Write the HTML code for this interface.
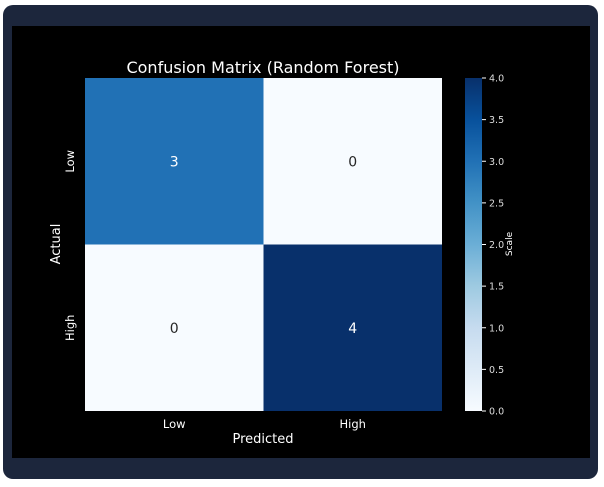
<!DOCTYPE html>
<html><head><meta charset="utf-8"><style>
body{margin:0;background:#fff;}
#wrap{position:relative;width:604px;height:487px;background:#fff;overflow:hidden;}
#frame{position:absolute;left:3px;top:5px;width:595px;height:474px;background:#1c263c;border-radius:10px;}
svg{position:absolute;left:0;top:0;}
text{font-family:"DejaVu Sans","Liberation Sans",sans-serif;fill:#fff;}
</style></head><body>
<div id="wrap">
<div id="frame"></div>
<svg id="chart" width="604" height="487">
<defs><linearGradient id="blues" x1="0" y1="1" x2="0" y2="0">
<stop offset="0" stop-color="#f7fbff"/><stop offset="0.125" stop-color="#deebf7"/>
<stop offset="0.25" stop-color="#c6dbef"/><stop offset="0.375" stop-color="#9ecae1"/>
<stop offset="0.5" stop-color="#6baed6"/><stop offset="0.625" stop-color="#4292c6"/>
<stop offset="0.75" stop-color="#2171b5"/><stop offset="0.875" stop-color="#08519c"/>
<stop offset="1" stop-color="#08306b"/></linearGradient></defs>
<rect x="12" y="26" width="578" height="432" fill="#000"/>
<text x="263" y="73" font-size="16" text-anchor="middle">Confusion Matrix (Random Forest)</text>
<text x="263" y="443" font-size="13" text-anchor="middle">Predicted</text>
<text x="60" y="244" font-size="13" text-anchor="middle" transform="rotate(-90 60 244)">Actual</text>
<rect x="465" y="78" width="17" height="333" fill="url(#blues)"/>
<text x="512" y="244" font-size="9" text-anchor="middle" transform="rotate(-90 512 244)">Scale</text>
<g id="cells"></g><g id="ticks"></g>
</svg>
</div>
<script>
const categories=["Low","High"];
const matrix=[[3,0],[0,4]];
const cbTicks=[0,0.5,1,1.5,2,2.5,3,3.5,4];
const vmin=0,vmax=4;
const NS="http://www.w3.org/2000/svg";
const X0=85,Y0=78,W=357,H=333;
const cw=W/categories.length,ch=H/categories.length;
const stops=[[0,247,251,255],[0.125,222,235,247],[0.25,198,219,239],[0.375,158,202,225],[0.5,107,174,214],[0.625,66,146,198],[0.75,33,113,181],[0.875,8,81,156],[1,8,48,107]];
function color(v){const t=(v-vmin)/(vmax-vmin);for(let i=1;i<stops.length;i++){if(t<=stops[i][0]){const a=stops[i-1],b=stops[i],f=(t-a[0])/(b[0]-a[0]);return `rgb(${[1,2,3].map(k=>Math.round(a[k]+f*(b[k]-a[k]))).join(',')})`;}}return 'rgb(8,48,107)';}
function mk(tag,attrs,parent){const e=document.createElementNS(NS,tag);for(const k in attrs)e.setAttribute(k,attrs[k]);parent.appendChild(e);return e;}
const cells=document.getElementById('cells'),ticks=document.getElementById('ticks');
matrix.forEach((row,r)=>row.forEach((v,c)=>{
 const rc=mk('rect',{x:X0+c*cw,y:Y0+r*ch,width:cw,height:ch,fill:color(v)},cells);
 
 
 const t=mk('text',{x:X0+c*cw+cw/2,y:Y0+r*ch+ch/2+5,'font-size':14,'text-anchor':'middle'},cells);
 t.style.fill=(v-vmin)/(vmax-vmin)>0.5?'#fff':'#262626';
 t.textContent=v;
 
 
}));
categories.forEach((c,i)=>{
 const tx=mk('text',{x:X0+i*cw+cw/2,y:Y0+H+17,'font-size':11.5,'text-anchor':'middle'},ticks);
 tx.textContent=c;
 
 
 const y=Y0+i*ch+ch/2;
 const ty=mk('text',{x:X0-11,y:y,'font-size':11.5,'text-anchor':'middle',transform:`rotate(-90 ${X0-11} ${y})`},ticks);
 ty.textContent=c;
 
 
});
cbTicks.forEach(v=>{
 const y=Y0+H-(v-vmin)/(vmax-vmin)*H;
 const l=mk('line',{x1:482,x2:486,y1:y,y2:y,stroke:'#fff','stroke-width':1},ticks);
 
 
 const t=mk('text',{x:489,y:y+3.5,'font-size':9.5},ticks);
 t.style.fill='#ddd';
 t.textContent=v.toFixed(1);
 
 
});
</script>
</body></html>
